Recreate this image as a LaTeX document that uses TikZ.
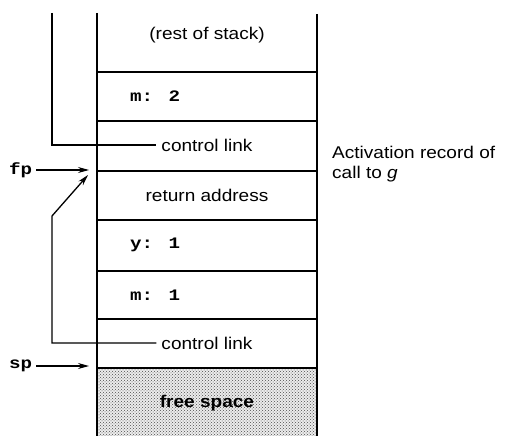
\documentclass[tikz,border=0pt]{standalone}
\usepackage{fontspec}
\setmainfont[FakeStretch=1.12]{Liberation Sans}
\newfontfamily\monob[FakeStretch=1.2]{Liberation Mono Bold}
\usetikzlibrary{arrows.meta,patterns}
\begin{document}
\begin{tikzpicture}[x=1pt,y=-1pt,
  lbl/.style={font=\fontsize{17}{20}\selectfont, inner sep=1pt},
  mono/.style={font=\fontsize{16}{18}\selectfont\monob, inner sep=1pt, anchor=west},
  rule/.style={line width=1.3pt},
  link/.style={line width=1.3pt},
  ptr/.style={line width=1.1pt, -{Stealth[length=11pt,width=6pt]}}]
\useasboundingbox (0,0) rectangle (514,436);
% free space
\fill[gray!15] (97,368) rectangle (317,436);
\fill[pattern=crosshatch dots, pattern color=gray!60!black] (97,368) rectangle (317,436);
% stack frame
\draw[rule] (97,13) -- (97,436);
\draw[rule] (317,14) -- (317,436);
\foreach \y in {121,171,220,271,319,368} \draw[rule] (97,\y) -- (317,\y);
\draw[line width=1.8pt] (97,72) -- (317,72);
% texts
\node[lbl] (rest) at (207,35) {(rest of stack)};
\node[mono] (m2) at (129,96) {m: 2};
\node[lbl, inner sep=5pt] (cl1) at (207,145) {control link};
\node[lbl] (ret) at (207,195) {return address};
\node[mono] (y1) at (129,245) {y: 1};
\node[mono] (m1) at (129,295) {m: 1};
\node[lbl, inner sep=5pt] (cl2) at (207,343) {control link};
\node[lbl, font=\fontsize{17}{20}\selectfont\bfseries] (free) at (207,403) {free space};
\node[lbl, anchor=west, align=left] (act) at (331,164) {Activation record of\\call to \textit{g}};
\node[mono, anchor=west, inner sep=0pt] (fp) at (9,170) {fp};
\node[mono, anchor=west, inner sep=0pt] (sp) at (9,366) {sp};
% pointers
\coordinate (fpt) at (89,170);
\coordinate (spt) at (89,366);
\draw[ptr] (fp.east) ++(4,0) -- (fpt);
\draw[ptr] (sp.east) ++(4,0) -- (spt);
% control links
\coordinate (top1) at (52,13);
\coordinate (tip2) at (88,175);
\draw[link] (top1) -- (52,145) -- (cl1.west);
\draw[link, -{Stealth[length=11pt,width=6pt]}] (cl2.west) -- (52,343) -- (52,216) -- (tip2);
\end{tikzpicture}
\end{document}
